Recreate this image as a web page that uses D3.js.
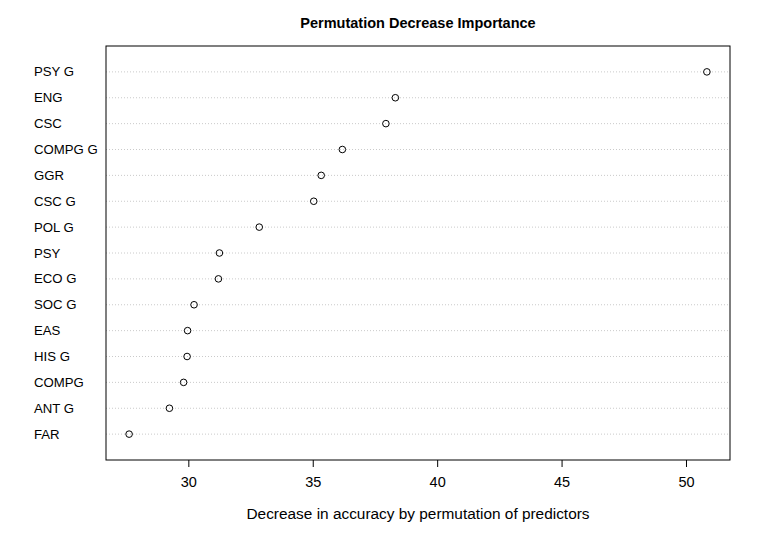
<!DOCTYPE html>
<html><head><meta charset="utf-8">
<script src="https://cdn.jsdelivr.net/npm/d3@7"></script>
<style>body{margin:0;background:#fff}svg{display:block;font-family:"Liberation Sans",Arial,Helvetica,sans-serif}</style>
</head><body>
<svg id="c" width="763" height="545"></svg>
<script>
const categories = ["PSY G","ENG","CSC","COMPG G","GGR","CSC G","POL G","PSY","ECO G","SOC G","EAS","HIS G","COMPG","ANT G","FAR"];
const values = [50.84,38.32,37.94,36.19,35.34,35.04,32.85,31.25,31.21,30.23,29.97,29.95,29.81,29.24,27.62];
const xTicks = [30,35,40,45,50];
const title = "Permutation Decrease Importance";
const xLabel = "Decrease in accuracy by permutation of predictors";

const svg = d3.select("#c");
const L = 106, R = 730, T = 46, B = 460;
const mn = d3.min(values), mx = d3.max(values), pad = (mx - mn) * 0.04;
const x = d3.scaleLinear().domain([mn - pad, mx + pad]).range([L, R]);
const n = categories.length;
const y = d3.scaleLinear().domain([0, n + 1]).range([B, T]);
const rowY = i => y(n - i);

// grid lines
svg.append("g").selectAll("line").data(categories).join("line")
  .attr("x1", L).attr("x2", R)
  .attr("y1", (d,i) => rowY(i)).attr("y2", (d,i) => rowY(i))
  .attr("stroke", "#bdbdbd").attr("stroke-width", 0.8).attr("stroke-dasharray", "1,2");

// points
svg.append("g").selectAll("circle").data(values).join("circle")
  .attr("cx", d => x(d)).attr("cy", (d,i) => rowY(i)).attr("r", 3.3)
  .attr("fill", "none").attr("stroke", "#000").attr("stroke-width", 1);

// labels
svg.append("g").selectAll("text").data(categories).join("text")
  .attr("x", 34).attr("y", (d,i) => rowY(i) + 4.6)
  .attr("font-size", 13.2).attr("fill", "#000").text(d => d);

// box
svg.append("rect").attr("x", L).attr("y", T).attr("width", R - L).attr("height", B - T)
  .attr("fill", "none").attr("stroke", "#000").attr("stroke-width", 1);

// x axis
const ax = d3.axisBottom(x).tickValues(xTicks).tickSize(7).tickSizeOuter(0).tickPadding(10).tickFormat(d3.format("d"));
const g = svg.append("g").attr("transform", `translate(0,${B})`).call(ax);
g.select(".domain").remove();
g.selectAll("text").attr("font-size", 14.5).attr("fill", "#000").attr("font-family", "Liberation Sans, Arial, sans-serif");
g.selectAll("line").attr("stroke", "#000");

svg.append("text").attr("x", (L + R) / 2).attr("y", 519).attr("text-anchor", "middle")
  .attr("font-size", 15.4).attr("fill", "#000").text(xLabel);
svg.append("text").attr("x", (L + R) / 2).attr("y", 28).attr("text-anchor", "middle")
  .attr("font-size", 14.5).attr("font-weight", "bold").attr("fill", "#000").text(title);
</script>
</body></html>
